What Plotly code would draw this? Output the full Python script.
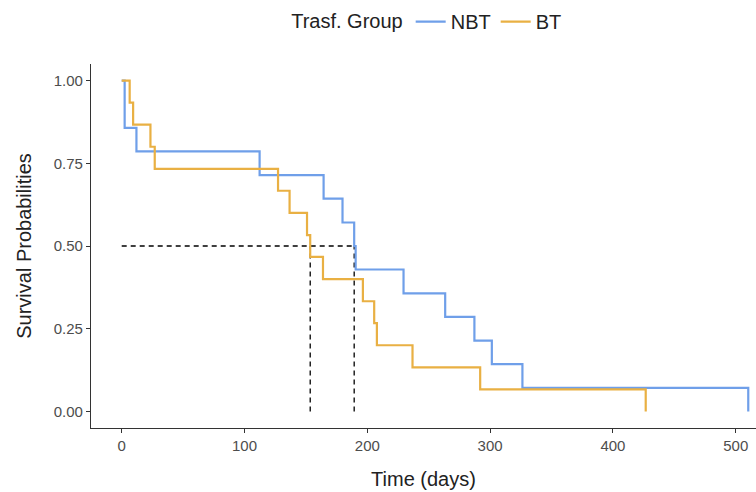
import plotly.graph_objects as go

# Kaplan-Meier step data
nbt_time = [0, 2.4, 12, 112.3, 164.4, 179.8, 189.3, 190.5, 229.5, 263.4, 287.2, 301.4, 326.3, 510.2]
nbt_surv = [1.0, 0.857, 0.786, 0.714, 0.643, 0.571, 0.5, 0.429, 0.357, 0.286, 0.214, 0.143, 0.071, 0.0]

bt_time = [0, 6.5, 9.3, 23.4, 26.9, 127.3, 136.7, 150.9, 153.5, 163.9, 196.4, 205.6, 207.8, 236.8, 291.9, 426.7]
bt_surv = [1.0, 0.933, 0.867, 0.8, 0.733, 0.667, 0.6, 0.533, 0.467, 0.4, 0.333, 0.267, 0.2, 0.133, 0.067, 0.0]

median_nbt = 189.3
median_bt = 153.5

x_ticks = [0, 100, 200, 300, 400, 500]
y_ticks = [0, 0.25, 0.5, 0.75, 1.0]
y_labels = ["0.00", "0.25", "0.50", "0.75", "1.00"]

BLUE = "#6F9FE9"
ORANGE = "#E9B043"
DASH = "5px,4px"

fig = go.Figure()

# median dashed lines
fig.add_trace(go.Scatter(x=[0, median_nbt], y=[0.5, 0.5], mode="lines",
                         line=dict(color="black", width=1.3, dash=DASH),
                         showlegend=False, hoverinfo="skip"))
fig.add_trace(go.Scatter(x=[median_bt, median_bt], y=[0, 0.5], mode="lines",
                         line=dict(color="black", width=1.3, dash=DASH),
                         showlegend=False, hoverinfo="skip"))
fig.add_trace(go.Scatter(x=[median_nbt, median_nbt], y=[0, 0.5], mode="lines",
                         line=dict(color="black", width=1.3, dash=DASH),
                         showlegend=False, hoverinfo="skip"))

fig.add_trace(go.Scatter(x=nbt_time, y=nbt_surv, mode="lines", line_shape="hv",
                         line=dict(color=BLUE, width=2.2), name="NBT"))
fig.add_trace(go.Scatter(x=bt_time, y=bt_surv, mode="lines", line_shape="hv",
                         line=dict(color=ORANGE, width=2.2), name="BT"))

FONT = "Liberation Sans, Arial, Helvetica, sans-serif"

fig.update_layout(
    width=756, height=492,
    margin=dict(l=91, r=0, t=64, b=64, autoexpand=False),
    paper_bgcolor="white", plot_bgcolor="white",
    font=dict(family=FONT, color="black"),
    showlegend=True,
    legend=dict(
        title=dict(text="Trasf. Group", font=dict(size=20, color="#222222"), side="left"),
        orientation="h", x=0.298, xanchor="left", y=1.17, yanchor="top",
        font=dict(size=20, color="#222222"),
        itemwidth=30, tracegroupgap=0, traceorder="normal",
        bgcolor="rgba(0,0,0,0)",
    ),
    xaxis=dict(
        range=[-25.0, 516.5], tickvals=x_ticks, ticktext=[str(v) for v in x_ticks],
        showgrid=False, zeroline=False, showline=True, linecolor="#333333", linewidth=1.2,
        ticks="outside", ticklen=4, tickwidth=1.2, tickcolor="#333333",
        tickfont=dict(size=15, color="#4D4D4D"), automargin=False,
        title=dict(text="Time (days)", font=dict(size=20, color="#222222"), standoff=18),
    ),
    yaxis=dict(
        range=[-0.05, 1.05], tickvals=y_ticks, ticktext=y_labels,
        showgrid=False, zeroline=False, showline=True, linecolor="#333333", linewidth=1.2,
        ticks="outside", ticklen=4, tickwidth=1.2, tickcolor="#333333",
        tickfont=dict(size=15, color="#4D4D4D"), automargin=False,
        title=dict(text="Survival Probabilities", font=dict(size=20, color="#222222"), standoff=16),
    ),
)

fig.write_html("out.html", config={"displayModeBar": False},
               post_script="document.body.style.margin='0';")
